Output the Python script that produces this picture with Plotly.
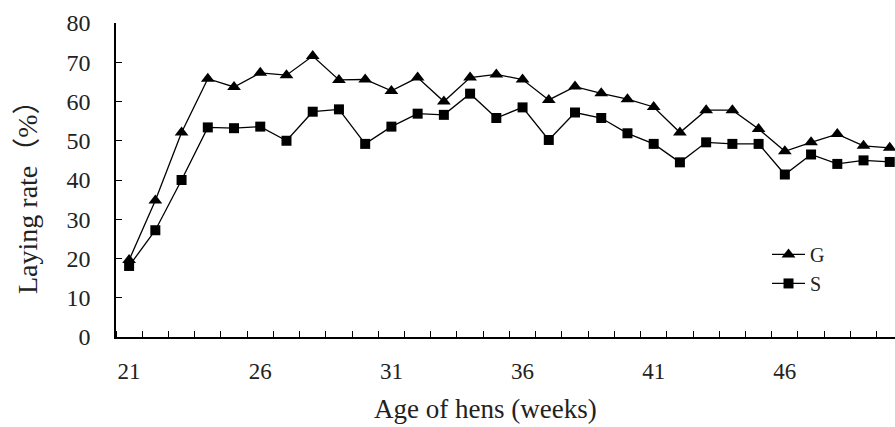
import plotly.graph_objects as go

weeks = list(range(21, 51))
g_rate = [19.6, 34.8, 52.1, 65.8, 63.7, 67.3, 66.7, 71.6, 65.5, 65.6,
          62.7, 66.1, 60.0, 66.1, 66.9, 65.6, 60.4, 63.8, 62.1, 60.6,
          58.6, 52.1, 57.8, 57.8, 53.0, 47.3, 49.6, 51.7, 48.7, 48.2]
s_rate = [18.1, 27.2, 40.0, 53.4, 53.2, 53.6, 50.0, 57.4, 58.0, 49.2,
          53.6, 56.9, 56.6, 62.0, 55.8, 58.5, 50.2, 57.2, 55.8, 51.9,
          49.2, 44.5, 49.6, 49.2, 49.2, 41.4, 46.5, 44.1, 45.0, 44.6]
x_labels = [21, 26, 31, 36, 41, 46]
y_ticks = list(range(0, 81, 10))

FONT = "Liberation Serif"

fig = go.Figure()
fig.add_trace(go.Scatter(
    x=weeks, y=g_rate, name="G", mode="lines+markers",
    line=dict(color="black", width=1.3),
    marker=dict(symbol="triangle-up", size=12, color="black"),
))
fig.add_trace(go.Scatter(
    x=weeks, y=s_rate, name="S", mode="lines+markers",
    line=dict(color="black", width=1.3),
    marker=dict(symbol="square", size=10, color="black"),
))

fig.update_layout(
    width=895, height=427,
    margin=dict(l=116, r=0, t=23, b=90, autoexpand=False),
    paper_bgcolor="white", plot_bgcolor="white",
    font=dict(family=FONT, color="#222", size=18),
    showlegend=True,
    legend=dict(x=0.8357, y=0.325, xanchor="left", yanchor="top",
                bgcolor="rgba(0,0,0,0)", font=dict(size=20, family=FONT),
                tracegroupgap=0, itemwidth=33),
    xaxis=dict(
        range=[20.5, 50.2], showgrid=False, zeroline=False, automargin=False,
        showline=True, linecolor="black", linewidth=1.5,
        tickvals=x_labels, ticktext=[str(v) for v in x_labels],
        ticks="", ticklabelstandoff=13,
        tickfont=dict(size=23, family=FONT),
        minor=dict(tickvals=[w + 0.5 for w in range(20, 51)], ticks="inside",
                   ticklen=6, tickcolor="black", tickwidth=1, showgrid=False),
    ),
    yaxis=dict(
        range=[0, 80], showgrid=False, zeroline=False, automargin=False,
        showline=True, linecolor="black", linewidth=1.5,
        tickvals=y_ticks, ticks="inside", ticklen=6, tickcolor="black", tickwidth=1,
        ticklabelstandoff=19,
        tickfont=dict(size=24, family=FONT),
    ),
    annotations=[
        dict(text="Age of hens (weeks)", xref="paper", yref="paper",
             x=(485 - 116) / (895 - 116), y=-(409 - 337) / 314,
             xanchor="center", yanchor="middle", showarrow=False,
             font=dict(size=27, family=FONT, color="#222")),
        dict(text="Laying rate（%）", xref="paper", yref="paper",
             x=-(116 - 27) / (895 - 116), y=(337 - 190) / 314,
             xanchor="center", yanchor="middle", showarrow=False, textangle=-90,
             font=dict(size=28, family=FONT + ", Noto Sans CJK SC", color="#222")),
    ],
)

fig.write_html("out.html", config={"displayModeBar": False},
               post_script="document.body.style.margin='0';")
